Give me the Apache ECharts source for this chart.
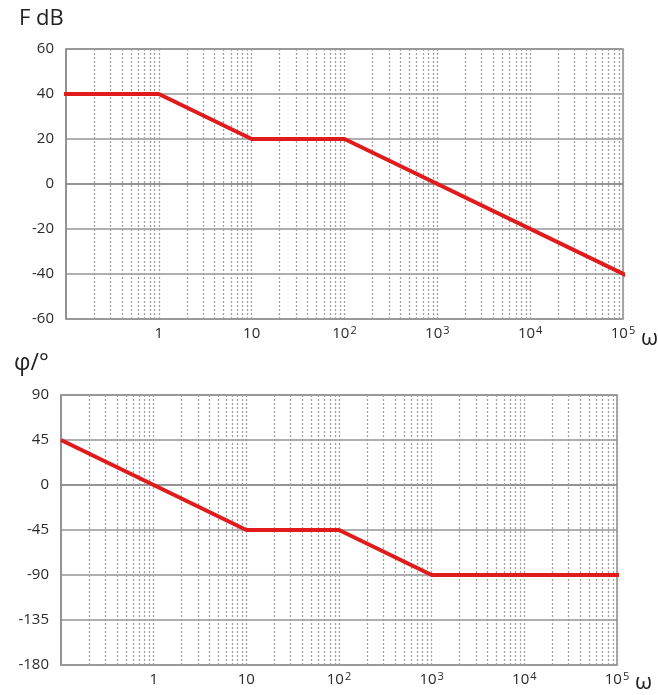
<!DOCTYPE html>
<html>
<head>
<meta charset="utf-8">
<script src="https://cdn.jsdelivr.net/npm/echarts@6/dist/echarts.min.js"></script>
<style>
  html, body { margin: 0; padding: 0; background: #fff; }
  #chart { width: 658px; height: 695px; }
</style>
</head>
<body>
<div id="chart"></div>
<script>
// Asymptotic Bode diagram: magnitude (top) and phase (bottom)
const magOmega = [0.09, 1, 10, 100, 1.13e5];
const magDb    = [40, 40, 20, 20, -41];

const phaseOmega = [0.1, 1, 10, 100, 1000, 1.05e5];
const phaseDeg   = [45, 0, -45, -45, -90, -90];

// decade labels: [base, exponent]
const decadeLabels = {
  1: ['1', ''], 10: ['10', ''], 100: ['10', '2'],
  1000: ['10', '3'], 10000: ['10', '4'], 100000: ['10', '5']
};

const magTicks = [-60, -40, -20, 0, 20, 40, 60];
const phaseTicks = [-180, -135, -90, -45, 0, 45, 90];

// dotted log-grid positions: 2..10 times each decade from 0.1
const logGrid = [];
for (let e = -1; e < 5; e++) {
  for (let n = 2; n <= 10; n++) logGrid.push(n * Math.pow(10, e));
}

const font = '"Open Sans", "Liberation Sans", sans-serif';
const textColor = '#2a2a2a';
const red = '#e01b1b';

function xAxisOf(gi) {
  return {
    type: 'log', logBase: 10, gridIndex: gi,
    min: 0.1, max: 1e5,
    axisLine: { show: true, lineStyle: { color: '#8c8c8c', width: 1.5 } },
    axisTick: { show: false },
    splitLine: { show: false },
    axisLabel: {
      color: textColor, fontSize: 15, fontFamily: font, margin: 6,
      showMinLabel: true, showMaxLabel: true,
      formatter: v => {
        const l = decadeLabels[Math.round(v)];
        if (!l) return '';
        return '{b|' + l[0] + '}' + (l[1] ? '{s|' + l[1] + '}' : '');
      },
      rich: {
        b: { fontSize: 15, fontFamily: font, color: textColor, lineHeight: 18 },
        s: { fontSize: 11, fontFamily: font, color: textColor, verticalAlign: 'top', padding: [0, 0, 0, 1] }
      }
    }
  };
}
function yAxisOf(gi, min, max, step) {
  return {
    type: 'value', gridIndex: gi, min, max, interval: step,
    axisLine: { show: true, lineStyle: { color: '#8c8c8c', width: 1.5 } },
    axisTick: { show: false },
    splitLine: { show: true, lineStyle: { color: '#959595', width: 1.6 } },
    axisLabel: { color: textColor, fontSize: 15, fontFamily: font, margin: 12 }
  };
}
function gridLines(gi) {
  return {
    type: 'line', xAxisIndex: gi, yAxisIndex: gi, data: [], z: 1, silent: true,
    markLine: {
      silent: true, symbol: 'none', animation: false,
      label: { show: false },
      lineStyle: { color: '#a0a0a0', width: 1.3, type: [2, 2] },
      data: logGrid.map(v => ({ xAxis: v }))
    }
  };
}

const chart = echarts.init(document.getElementById('chart'), null, { renderer: 'canvas' });
chart.setOption({
  animation: false,
  backgroundColor: '#fff',
  grid: [
    { left: 66, top: 49, width: 557, height: 270, show: true, borderColor: '#8c8c8c', borderWidth: 1.5 },
    { left: 61, top: 395, width: 556, height: 270, show: true, borderColor: '#8c8c8c', borderWidth: 1.5 }
  ],
  xAxis: [xAxisOf(0), xAxisOf(1)],
  yAxis: [yAxisOf(0, magTicks[0], magTicks[magTicks.length - 1], 20),
          yAxisOf(1, phaseTicks[0], phaseTicks[phaseTicks.length - 1], 45)],
  graphic: [
    { type: 'text', left: 19, top: 8, style: { text: 'F dB', font: '22px ' + font, fill: '#222' } },
    { type: 'text', left: 14, top: 352, style: { text: 'φ/°', font: '23px ' + font, fill: '#222' } },
    { type: 'text', left: 641, top: 328, style: { text: 'ω', font: '22px ' + font, fill: '#222' } },
    { type: 'text', left: 635, top: 672, style: { text: 'ω', font: '22px ' + font, fill: '#222' } }
  ],
  series: [
    gridLines(0),
    gridLines(1),
    {
      type: 'line', xAxisIndex: 0, yAxisIndex: 0, z: 5, clip: false,
      data: magOmega.map((w, i) => [w, magDb[i]]),
      symbol: 'none', lineStyle: { color: red, width: 4 }
    },
    {
      type: 'line', xAxisIndex: 1, yAxisIndex: 1, z: 5, clip: false,
      data: phaseOmega.map((w, i) => [w, phaseDeg[i]]),
      symbol: 'none', lineStyle: { color: red, width: 4 }
    }
  ]
});
</script>
</body>
</html>
